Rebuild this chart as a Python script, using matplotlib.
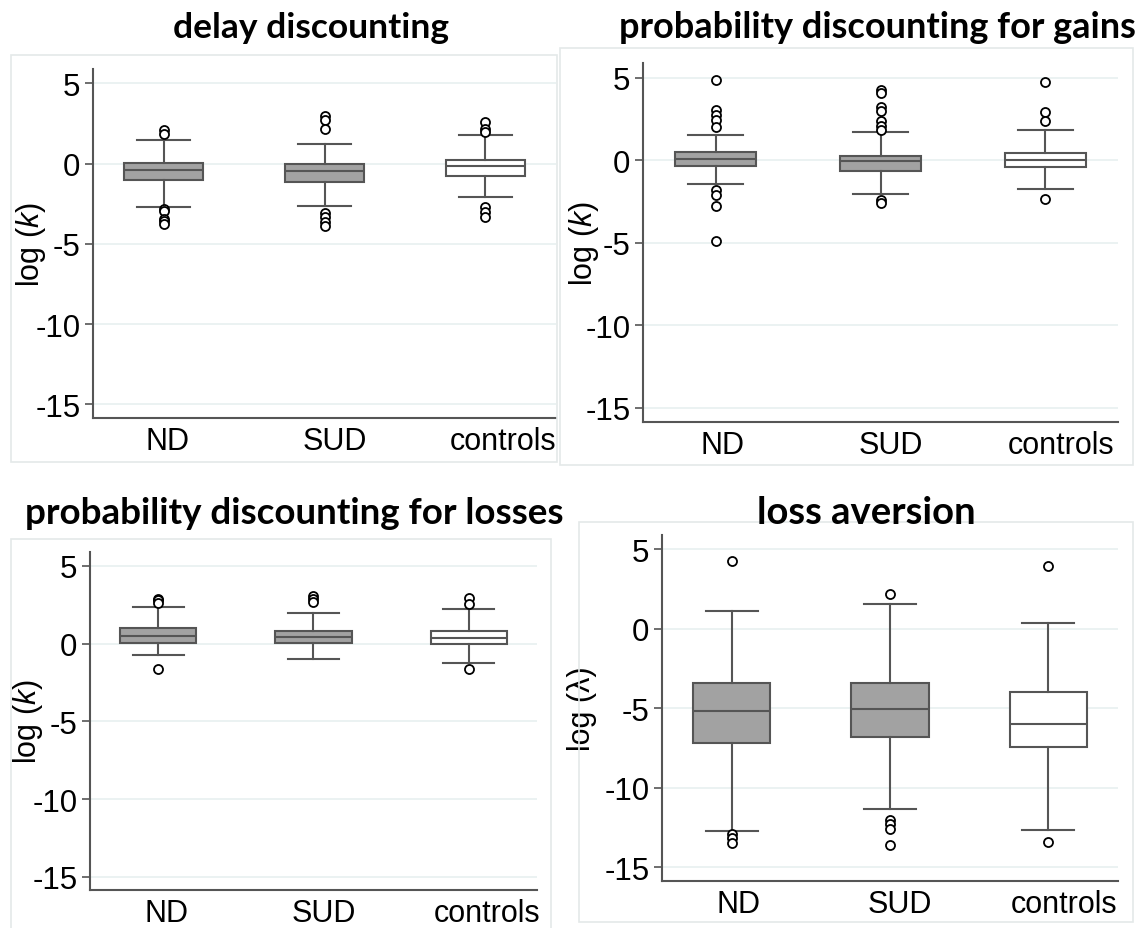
import matplotlib
matplotlib.use('Agg')
import matplotlib.pyplot as plt
from matplotlib.patches import Rectangle
from matplotlib.transforms import ScaledTranslation

plt.rcParams['font.family'] = ['Liberation Sans', 'DejaVu Sans']
plt.rcParams['mathtext.fontset'] = 'custom'
plt.rcParams['mathtext.rm'] = 'Liberation Sans'
plt.rcParams['mathtext.it'] = 'Liberation Sans:italic'

# groups
groups = ['ND', 'SUD', 'controls']
fills = ['#A2A2A2', '#A2A2A2', 'white']

# delay discounting, log(k)
delay_q1 = [-1.04, -1.12, -0.79]
delay_med = [-0.38, -0.46, -0.14]
delay_q3 = [0.02, -0.04, 0.21]
delay_lo = [-2.67, -2.63, -2.05]
delay_hi = [1.45, 1.24, 1.80]
delay_out = [[2.12, 1.86, -2.85, -2.95, -3.45, -3.6, -3.77],
             [3.0, 2.75, 2.19, -3.1, -3.35, -3.62, -3.9],
             [2.59, 2.13, 2.0, -2.69, -3.0, -3.31]]

# probability discounting for gains, log(k)
gains_q1 = [-0.32, -0.63, -0.38]
gains_med = [0.08, -0.02, 0.0]
gains_q3 = [0.49, 0.28, 0.45]
gains_lo = [-1.42, -2.02, -1.72]
gains_hi = [1.52, 1.72, 1.82]
gains_out = [[4.88, 3.06, 2.73, 2.47, 2.0, -1.82, -2.1, -2.75, -4.9],
             [4.29, 4.1, 3.22, 3.0, 2.37, 2.06, 1.86, -2.43, -2.6],
             [4.72, 2.91, 2.37, -2.31]]

# probability discounting for losses, log(k)
losses_q1 = [0.04, 0.02, 0.0]
losses_med = [0.52, 0.45, 0.36]
losses_q3 = [1.01, 0.84, 0.84]
losses_lo = [-0.73, -1.0, -1.24]
losses_hi = [2.34, 1.95, 2.25]
losses_out = [[2.9, 2.8, 2.62, -1.63],
              [3.05, 2.88, 2.7],
              [2.96, 2.58, -1.61]]

# loss aversion, log(lambda)
la_q1 = [-7.15, -6.77, -7.42]
la_med = [-5.16, -5.01, -5.97]
la_q3 = [-3.42, -3.40, -3.94]
la_lo = [-12.68, -11.34, -12.64]
la_hi = [1.11, 1.57, 0.36]
la_out = [[4.26, -12.91, -13.12, -13.46],
          [2.18, -12.03, -12.28, -12.56, -13.6],
          [3.94, -13.37]]

W, H = 1147, 929
fig = plt.figure(figsize=(W / 100, H / 100), dpi=100)

def frame(x0, y0, x1, y1):
    fig.patches.append(Rectangle((x0 / W, 1 - y1 / H), (x1 - x0) / W, (y1 - y0) / H,
                                 transform=fig.transFigure, fill=False,
                                 edgecolor='#E4E9E9', linewidth=1.2))

def panel(rect, q1, med, q3, lo, hi, out, ylab, yoff, title, tpos, tsize, lab_shift):
    x0, y0, x1, y1 = rect
    ax = fig.add_axes([x0 / W, 1 - y1 / H, (x1 - x0) / W, (y1 - y0) / H])
    stats = []
    for i in range(3):
        stats.append(dict(med=med[i], q1=q1[i], q3=q3[i], whislo=lo[i],
                          whishi=hi[i], fliers=out[i]))
    bp = ax.bxp(stats, positions=[1, 2, 3], widths=0.49, patch_artist=True,
                showfliers=True,
                boxprops=dict(edgecolor='#555555', linewidth=1.5),
                medianprops=dict(color='#555555', linewidth=1.5),
                whiskerprops=dict(color='#555555', linewidth=1.5),
                capprops=dict(color='#555555', linewidth=1.5),
                flierprops=dict(marker='o', markersize=6.5, markerfacecolor='white',
                                markeredgecolor='black', markeredgewidth=1.3))
    for b, c in zip(bp['boxes'], fills):
        b.set_facecolor(c)
    for cap in bp['caps']:
        xd = cap.get_xdata()
        m = (xd[0] + xd[1]) / 2
        cap.set_xdata([m - 0.165, m + 0.165])
    ax.set_xlim(0.56, 3.44)
    ax.set_ylim(-15.85, 5.9)
    ax.set_yticks([5, 0, -5, -10, -15])
    ax.set_yticklabels(['5', '0', '-5', '-10', '-15'])
    ax.yaxis.grid(True, color='#E7F0F0', linewidth=1.2)
    ax.set_axisbelow(True)
    ax.set_xticks([1, 2, 3])
    ax.set_xticklabels(groups)
    ax.tick_params(axis='x', length=0, labelsize=22, pad=6)
    ax.tick_params(axis='y', length=6, width=1.2, color='#555555', labelsize=22.5, pad=3)
    for lab, dx in zip(ax.get_xticklabels(), lab_shift):
        lab.set_transform(lab.get_transform() + ScaledTranslation(dx / 100, 0, fig.dpi_scale_trans))
    for s in ['top', 'right']:
        ax.spines[s].set_visible(False)
    for s in ['left', 'bottom']:
        ax.spines[s].set_color('#555555')
        ax.spines[s].set_linewidth(1.5)
    ax.set_ylabel(ylab, fontsize=22)
    ax.yaxis.set_label_coords(-yoff / (x1 - x0), 0.5)
    fig.text(tpos[0] / W, 1 - tpos[1] / H, title, ha='center', va='center',
             fontsize=tsize, fontweight='bold', family=['Lato', 'DejaVu Sans'])
    return ax

frame(11, 56, 557, 463)
frame(560, 49, 1133, 466)
frame(11, 540, 551, 940)
frame(579, 523, 1133, 923)

panel((93, 70, 556, 419), delay_q1, delay_med, delay_q3, delay_lo, delay_hi, delay_out,
      'log ($k$)', 45, 'delay discounting', (311, 28), 25.5, [4, 10, 18])
panel((643, 64, 1118, 423), gains_q1, gains_med, gains_q3, gains_lo, gains_hi, gains_out,
      'log ($k$)', 42, 'probability discounting for gains', (877, 28), 26, [7, 10, 16])
panel((90, 553, 537, 891), losses_q1, losses_med, losses_q3, losses_lo, losses_hi, losses_out,
      'log ($k$)', 45, 'probability discounting for losses', (294, 514), 26.5, [8, 10, 18])
panel((662, 536, 1118, 882), la_q1, la_med, la_q3, la_lo, la_hi, la_out,
      'log (λ)', 65, 'loss aversion', (866, 513), 27.5, [7, 10, 16])

fig.savefig('out.png', dpi=100)
